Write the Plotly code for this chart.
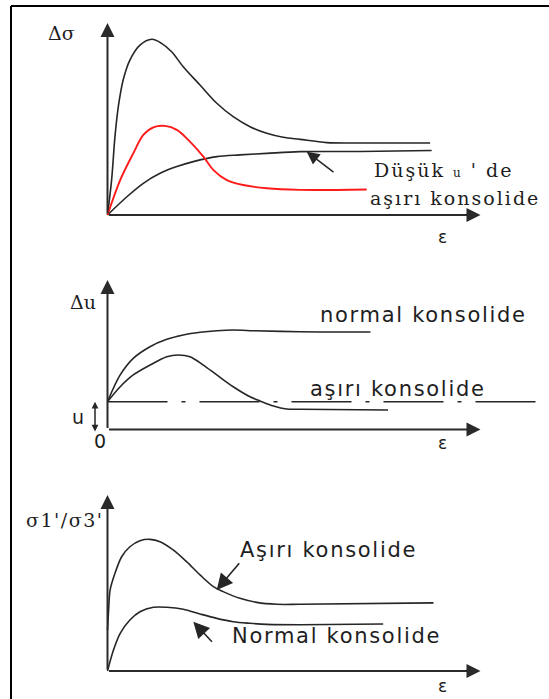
import plotly.graph_objects as go

W, H = 549, 699

# ---------------- data (strain ε and responses, arbitrary units) ----------------
# Panel 1 : Δσ – ε
eps_ds_oc = [0, 0.11, 0.2, 0.29, 0.42, 0.6, 0.87, 1.19, 1.45, 1.72, 2.03, 2.48, 2.93,
             3.37, 3.82, 4.27, 4.71, 5.16, 5.88, 6.79, 8.65]
ds_oc = [0, 1.82, 4.08, 5.64, 7.03, 8.07, 8.85, 9.15, 8.94, 8.5, 7.72, 6.77, 5.82,
         5.12, 4.6, 4.26, 4.05, 3.94, 3.77, 3.75, 3.75]
eps_ds_nc = [0, 0.52, 0.96, 1.41, 1.86, 2.3, 2.93, 3.55, 4.27, 5.16, 6.77, 8.69]
ds_nc = [0, 0.95, 1.65, 2.17, 2.52, 2.78, 3.04, 3.13, 3.21, 3.3, 3.31, 3.36]
eps_ds_low = [0, 0.34, 0.69, 0.96, 1.23, 1.54, 1.86, 2.21, 2.57, 2.84, 3.2, 3.64,
              4.27, 5.16, 6.95]
ds_low = [0, 1.82, 3.21, 4.17, 4.57, 4.64, 4.43, 3.82, 3.04, 2.34, 1.82, 1.56,
          1.39, 1.31, 1.33]

# Panel 2 : Δu – ε
u0 = 1.86
eps_du_nc = [0, 0.34, 0.69, 1.14, 1.59, 2.03, 2.48, 2.93, 3.37, 3.82, 5.16, 7.05]
du_nc = [1.86, 3.65, 4.76, 5.54, 6.03, 6.32, 6.5, 6.61, 6.66, 6.61, 6.54, 6.52]
eps_du_oc = [0, 0.34, 0.69, 1.14, 1.59, 1.9, 2.21, 2.57, 2.93, 3.37, 3.82, 4.09,
             4.45, 4.8, 5.16, 7.52]
du_oc = [1.86, 2.86, 3.65, 4.31, 4.87, 4.98, 4.87, 4.31, 3.65, 2.86, 2.19, 1.91,
         1.57, 1.37, 1.35, 1.3]
eps_du_ref = [0, 11.48]

# Panel 3 : σ1'/σ3' – ε
eps_r_oc = [0, 0.03, 0.07, 0.2, 0.38, 0.6, 0.87, 1.14, 1.41, 1.76, 2.12, 2.48, 2.84,
            3.1, 3.55, 4.0, 4.54, 5.16, 8.74]
r_oc = [2.33, 3.47, 4.6, 5.55, 6.49, 7.06, 7.4, 7.48, 7.35, 6.88, 6.21, 5.46, 4.79,
        4.51, 4.13, 3.9, 3.79, 3.79, 3.87]
eps_r_nc = [0, 0.16, 0.34, 0.6, 0.87, 1.23, 1.59, 2.03, 2.48, 2.93, 3.37, 3.82,
            4.27, 5.16, 7.39]
r_nc = [0, 1.19, 2.14, 2.9, 3.37, 3.62, 3.62, 3.51, 3.24, 2.99, 2.8, 2.71, 2.65,
        2.63, 2.67]

AXIS_LEN = 10

# ---------------- layout geometry (pixels) ----------------
X0_PX, X_UNIT = 107.5, 37.3
panels = [
    dict(top=0, bottom=250, origin=215, unit=19.2),
    dict(top=250, bottom=460, origin=429.5, unit=14.95),
    dict(top=460, bottom=699, origin=671, unit=17.6),
]

def px2x(px):
    return (px - X0_PX) / X_UNIT

def py2y(i, py):
    p = panels[i]
    return (p["origin"] - py) / p["unit"]

INK = "#262626"
SERIF = "DejaVu Serif"
SANS = "DejaVu Sans"

fig = go.Figure()

def add_line(i, x, y, color=INK, width=1.6, dash="solid"):
    sfx = "" if i == 0 else str(i + 1)
    fig.add_trace(go.Scatter(
        x=x, y=y, mode="lines", xaxis="x" + sfx, yaxis="y" + sfx,
        line=dict(color=color, width=width, shape="spline", smoothing=0.9, dash=dash),
        hoverinfo="skip", showlegend=False))

add_line(0, eps_ds_oc, ds_oc)
add_line(0, eps_ds_nc, ds_nc)
add_line(0, eps_ds_low, ds_low, color="#ff1a1a", width=1.9)

add_line(1, eps_du_nc, du_nc)
add_line(1, eps_du_oc, du_oc)
fig.add_trace(go.Scatter(
    x=eps_du_ref, y=[u0, u0], mode="lines", xaxis="x2", yaxis="y2",
    line=dict(color=INK, width=1.6, dash="60px,14px,4px,14px"),
    hoverinfo="skip", showlegend=False))

add_line(2, eps_r_oc, r_oc)
add_line(2, eps_r_nc, r_nc)

layout = dict(width=W, height=H, margin=dict(l=0, r=0, t=0, b=0),
              paper_bgcolor="white", plot_bgcolor="white", showlegend=False)
xr = [px2x(0), px2x(W)]
for i, p in enumerate(panels):
    sfx = "" if i == 0 else str(i + 1)
    layout["xaxis" + sfx] = dict(domain=[0, 1], range=xr, visible=False,
                                 anchor="y" + sfx, fixedrange=True)
    layout["yaxis" + sfx] = dict(domain=[1 - p["bottom"] / H, 1 - p["top"] / H],
                                 range=[py2y(i, p["bottom"]), py2y(i, p["top"])],
                                 visible=False, anchor="x" + sfx, fixedrange=True)
fig.update_layout(**layout)

ann = []

def arrow(i, x, y, ax, ay, size, width, side="end", color=INK):
    sfx = "" if i == 0 else str(i + 1)
    ann.append(dict(xref="x" + sfx, yref="y" + sfx, axref="x" + sfx, ayref="y" + sfx,
                    x=x, y=y, ax=ax, ay=ay, text="", showarrow=True, arrowhead=2,
                    arrowsize=size, arrowwidth=width, arrowcolor=color,
                    arrowside=side, standoff=0, startstandoff=0))

def label(px, py, text, family, size, xanchor="center", spacing=0):
    if spacing:
        text = "<span style='letter-spacing:%spx'>%s</span>" % (spacing, text)
    ann.append(dict(xref="paper", yref="paper", x=px / W, y=1 - py / H, text=text,
                    showarrow=False, xanchor=xanchor, yanchor="middle",
                    font=dict(family=family, size=size, color="#1e1e1e")))

# axes with arrow heads
for i in range(3):
    arrow(i, 0, AXIS_LEN, 0, 0, 1.4, 2, color="#2a2a2a")
    arrow(i, AXIS_LEN, 0, 0, 0, 1.4, 2, color="#2a2a2a")

# panel 1
label(61, 33, "Δσ", SERIF, 19)
label(442, 237, "ε", SANS, 17)
label(372, 170, "Düşük <span style='font-size:12px'>u</span> ' de", SERIF, 19,
      xanchor="left", spacing=2)
label(368, 198, "aşırı konsolide", SERIF, 19, xanchor="left", spacing=2)
arrow(0, px2x(306.7), py2y(0, 151.7), px2x(335), py2y(0, 173.3), 1.7, 1.5)

# panel 2
label(83, 302, "Δu", SERIF, 19)
label(318, 315, "normal konsolide", SANS, 21, xanchor="left", spacing=1.7)
label(308, 389, "aşırı konsolide", SANS, 21, xanchor="left", spacing=1.7)
label(78, 417, "u", SANS, 19)
label(100, 441, "0", SANS, 19)
label(442, 443, "ε", SANS, 17)
arrow(1, px2x(95), u0, px2x(95), py2y(1, 433), 0.9, 1.5, side="end+start")

# panel 3
label(64, 520, "σ1'/σ3'", SERIF, 19, spacing=1.5)
label(238, 550, "Aşırı konsolide", SANS, 21, xanchor="left", spacing=1.7)
label(230, 636, "Normal konsolide", SANS, 21, xanchor="left", spacing=1.7)
label(442, 686, "ε", SANS, 17)
arrow(2, px2x(216.7), py2y(2, 590), px2x(240.5), py2y(2, 561.7), 2.0, 1.6)
arrow(2, px2x(193.3), py2y(2, 621.7), px2x(213.3), py2y(2, 643.3), 2.0, 1.6)

fig.update_layout(annotations=ann)

# frame
fig.update_layout(shapes=[
    dict(type="line", xref="paper", yref="paper", x0=11 / W, x1=11 / W,
         y0=1 - 6 / H, y1=0, line=dict(color="black", width=2)),
    dict(type="line", xref="paper", yref="paper", x0=11 / W, x1=1,
         y0=1 - 6 / H, y1=1 - 6 / H, line=dict(color="black", width=2)),
])

fig.write_html(
    "out.html",
    config={"displayModeBar": False, "staticPlot": True},
    post_script="document.body.style.margin='0';document.body.style.overflow='hidden';",
)
